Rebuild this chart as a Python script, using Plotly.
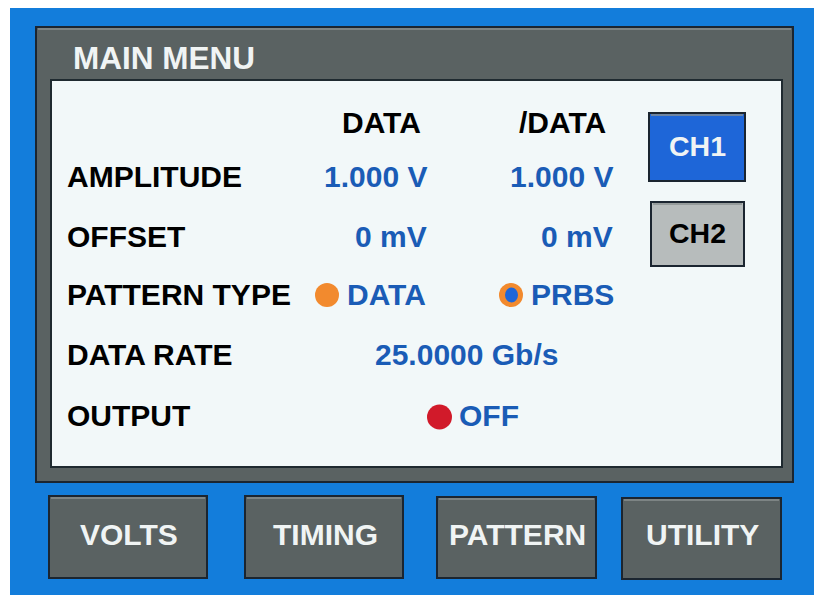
import plotly.graph_objects as go

# ---- content ----
title_text = "MAIN MENU"
row_labels = ["AMPLITUDE", "OFFSET", "PATTERN TYPE", "DATA RATE", "OUTPUT"]
col_headers = ["DATA", "/DATA"]
amplitude_values = ["1.000 V", "1.000 V"]
offset_values = ["0 mV", "0 mV"]
pattern_options = ["DATA", "PRBS"]
pattern_selected = [False, True]
data_rate_value = "25.0000 Gb/s"
output_value = "OFF"
channel_buttons = ["CH1", "CH2"]
channel_active = [True, False]
menu_buttons = ["VOLTS", "TIMING", "PATTERN", "UTILITY"]

# ---- style / layout constants ----
W, H = 814, 595
BLUE_BG = "#137ddb"
PANEL = "#5a6262"
INNER = "#f2f8f9"
DARK = "#1b2530"
VAL_BLUE = "#1a5cb6"
CH1_FILL = "#1e66d8"
CH2_FILL = "#b7bcbc"
ORANGE = "#f28a2e"
RED = "#d11a2a"
LIGHT_TXT = "#f0f4f4"
FONT = "Liberation Sans, Arial, sans-serif"
FS = 30
TXT_DY = -1.5

row_y = [178, 238, 296, 356, 417]
header_y = 124
col_right = [428, 614]
col_center = [381, 562]
label_x = 66

fig = go.Figure()
shapes = []
ann = []

def rect(x0, y0, x1, y1, fill, line=None, lw=0, layer="above"):
    shapes.append(dict(type="rect", xref="x", yref="y", x0=x0, y0=y0, x1=x1, y1=y1,
                       fillcolor=fill, line=dict(color=line or fill, width=lw), layer=layer))

def seg(x0, y0, x1, y1, color, lw):
    shapes.append(dict(type="line", xref="x", yref="y", x0=x0, y0=y0, x1=x1, y1=y1,
                       line=dict(color=color, width=lw), layer="above"))

def circ(cx, cy, rx, ry, fill):
    shapes.append(dict(type="circle", xref="x", yref="y", x0=cx - rx, y0=cy - ry,
                       x1=cx + rx, y1=cy + ry, fillcolor=fill, line=dict(width=0), layer="above"))

def text(x, y, s, color="black", size=FS, xanchor="left"):
    ann.append(dict(x=x, y=y + TXT_DY, xref="x", yref="y", text="<b>" + s + "</b>", showarrow=False,
                    xanchor=xanchor, yanchor="middle",
                    font=dict(family=FONT, size=size, color=color), borderpad=0))

def button(x0, y0, x1, y1, fill):
    rect(x0, y0, x1, y1, fill, DARK, 2)
    seg(x0 + 2, y0 + 2, x1 - 2, y0 + 2, "#8a9090", 1.5)

# background
rect(10, 8, W, H, BLUE_BG, layer="below")
# main panel
rect(36, 27, 793, 482, PANEL, DARK, 2)
seg(38, 29, 791, 29, "#8a9090", 1.5)
rect(51, 80, 782, 467, INNER, "#1f2a30", 2)

text(72, 59, title_text, LIGHT_TXT, 31.5)

# headers
for cx, h in zip(col_center, col_headers):
    text(cx, header_y, h, "black", FS, "center")

# row labels
for y, lab in zip(row_y, row_labels):
    text(label_x, y, lab)

# amplitude / offset values
for xr, v in zip(col_right, amplitude_values):
    text(xr, row_y[0], v, VAL_BLUE, FS, "right")
for xr, v in zip(col_right, offset_values):
    text(xr, row_y[1], v, VAL_BLUE, FS, "right")

# pattern type radio options
radio_cx = [327, 511]
for cx, opt, sel in zip(radio_cx, pattern_options, pattern_selected):
    circ(cx, row_y[2] - 1, 12, 12, ORANGE)
    if sel:
        circ(cx + 0.5, row_y[2] - 1, 6.5, 7.5, CH1_FILL)
    text(cx + 19, row_y[2], opt, VAL_BLUE)

# data rate
text(466, row_y[3], data_rate_value, VAL_BLUE, FS, "center")

# output
circ(439.5, row_y[4], 12.5, 12.5, RED)
text(458, row_y[4], output_value, VAL_BLUE)

# channel buttons
ch_boxes = [(649, 113, 745, 181), (651, 202, 744, 266)]
for (x0, y0, x1, y1), lab, act in zip(ch_boxes, channel_buttons, channel_active):
    button(x0, y0, x1, y1, CH1_FILL if act else CH2_FILL)
    text((x0 + x1) / 2, (y0 + y1) / 2, lab, LIGHT_TXT if act else "black", 28.5, "center")

# bottom menu buttons
menu_boxes = [(49, 496, 207, 578), (245, 496, 403, 578), (437, 497, 596, 578), (622, 498, 781, 579)]
for (x0, y0, x1, y1), lab in zip(menu_boxes, menu_buttons):
    button(x0, y0, x1, y1, PANEL)
    text((x0 + x1) / 2 + 1, 536, lab, LIGHT_TXT, FS, "center")

fig.update_layout(
    width=W, height=H, autosize=False,
    margin=dict(l=0, r=0, t=0, b=0, pad=0),
    paper_bgcolor="white", plot_bgcolor="white",
    xaxis=dict(range=[0, W], visible=False, fixedrange=True),
    yaxis=dict(range=[H, 0], visible=False, fixedrange=True),
    shapes=shapes, annotations=ann, showlegend=False,
)

fig.write_html("out.html", config={"displayModeBar": False},
               post_script="document.body.style.margin='0';")
